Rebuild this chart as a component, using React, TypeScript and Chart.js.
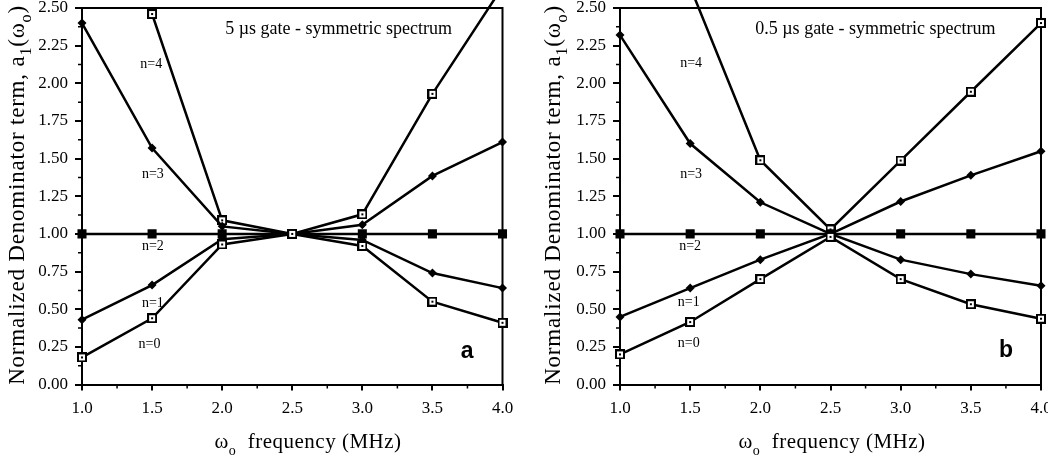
import React, { useEffect, useRef } from 'react';
import { Chart, registerables } from 'chart.js';

Chart.register(...registerables);

// ---------------- data ----------------
const frequencyMHz = [1.0, 1.5, 2.0, 2.5, 3.0, 3.5, 4.0];
const xTickValues = [1.0, 1.5, 2.0, 2.5, 3.0, 3.5, 4.0];
const yTickValues = [0, 0.25, 0.5, 0.75, 1.0, 1.25, 1.5, 1.75, 2.0, 2.25, 2.5];
const seriesNames = ['n=0', 'n=1', 'n=2', 'n=3', 'n=4'];

// (a) 5 µs gate - symmetric spectrum
const gate5_n0 = [0.18, 0.44, 0.93, 1.0, 0.92, 0.55, 0.41];
const gate5_n1 = [0.43, 0.66, 0.965, 1.0, 0.96, 0.74, 0.64];
const gate5_n2 = [1.0, 1.0, 1.0, 1.0, 1.0, 1.0, 1.0];
const gate5_n3 = [2.4, 1.57, 1.05, 1.0, 1.06, 1.385, 1.61];
const gate5_n4 = [null, 2.46, 1.09, 1.0, 1.13, 1.93, 2.64];

// (b) 0.5 µs gate - symmetric spectrum
const gate05_n0 = [0.2, 0.415, 0.7, 0.98, 0.7, 0.533, 0.437];
const gate05_n1 = [0.449, 0.64, 0.829, 1.0, 0.829, 0.733, 0.655];
const gate05_n2 = [1.0, 1.0, 1.0, 1.0, 1.0, 1.0, 1.0];
const gate05_n3 = [2.32, 1.6, 1.21, 1.0, 1.215, 1.389, 1.549];
const gate05_n4 = [null, 2.64, 1.489, 1.03, 1.487, 1.944, 2.4];

const SERIF = '"Liberation Serif", "Times New Roman", serif';
const SANS = '"Liberation Sans", Arial, sans-serif';

type Seg = { t: string; sub?: boolean };

type PanelSpec = {
  left: number;
  width: number;
  area: { left: number; right: number; top: number; bottom: number };
  series: (number | null)[][];
  gateLabel: string;
  gatePos: [number, number];
  letter: string;
  letterPos: [number, number];
  nLabelPos: [number, number][]; // n=0..n=4 in data units
  yTitleX: number;
  yTitleY: number;
  xTitleX: number;
  xTitleY: number;
};

const H = 463;

const panelA: PanelSpec = {
  left: 0,
  width: 527,
  area: { left: 82, right: 502.5, top: 8, bottom: 384.5 },
  series: [gate5_n0, gate5_n1, gate5_n2, gate5_n3, gate5_n4],
  gateLabel: '5 \u00b5s gate - symmetric spectrum',
  gatePos: [2.831, 2.36],
  letter: 'a',
  letterPos: [3.747, 0.217],
  nLabelPos: [
    [1.482, 0.27],
    [1.506, 0.539],
    [1.506, 0.92],
    [1.506, 1.396],
    [1.494, 2.128],
  ],
  yTitleX: 16,
  yTitleY: 195,
  xTitleX: 308,
  xTitleY: 441,
};

const panelB: PanelSpec = {
  left: 527,
  width: 521,
  area: { left: 93, right: 514, top: 8, bottom: 384.5 },
  series: [gate05_n0, gate05_n1, gate05_n2, gate05_n3, gate05_n4],
  gateLabel: '0.5 \u00b5s gate - symmetric spectrum',
  gatePos: [2.82, 2.356],
  letter: 'b',
  letterPos: [3.751, 0.222],
  nLabelPos: [
    [1.49, 0.273],
    [1.49, 0.544],
    [1.5, 0.918],
    [1.507, 1.396],
    [1.507, 2.133],
  ],
  yTitleX: 25,
  yTitleY: 195,
  xTitleX: 305,
  xTitleY: 441,
};

function makeDotSquare(): HTMLCanvasElement {
  const c = document.createElement('canvas');
  c.width = 10;
  c.height = 10;
  const g = c.getContext('2d')!;
  g.fillStyle = '#000';
  g.fillRect(0, 0, 10, 10);
  g.fillStyle = '#fff';
  g.fillRect(2, 2, 6, 6);
  g.fillStyle = '#000';
  g.fillRect(4, 4, 2, 2);
  return c;
}

function drawRich(
  ctx: CanvasRenderingContext2D,
  segs: Seg[],
  cx: number,
  cy: number,
  size: number,
  spacing: number,
  rotate: boolean
) {
  ctx.save();
  ctx.translate(cx, cy);
  if (rotate) ctx.rotate(-Math.PI / 2);
  const mainFont = `${size}px ${SERIF}`;
  const subFont = `${Math.round(size * 0.68)}px ${SERIF}`;
  (ctx as any).letterSpacing = `${spacing}px`;
  ctx.fillStyle = '#000';
  ctx.textAlign = 'left';
  ctx.textBaseline = 'alphabetic';
  const widths = segs.map((s) => {
    ctx.font = s.sub ? subFont : mainFont;
    return ctx.measureText(s.t).width;
  });
  const total = widths.reduce((a, b) => a + b, 0);
  let x = -total / 2;
  segs.forEach((s, i) => {
    ctx.font = s.sub ? subFont : mainFont;
    const y = size * 0.35 + (s.sub ? size * 0.32 : 0);
    ctx.fillText(s.t, x, y);
    x += widths[i];
  });
  ctx.restore();
}

function ChartPanel({ spec }: { spec: PanelSpec }) {
  const ref = useRef<HTMLCanvasElement>(null);

  useEffect(() => {
    const canvas = ref.current!;
    const dotSquare = makeDotSquare();
    const markerStyles: any[] = [
      { pointStyle: dotSquare, pointRadius: 5 },
      { pointStyle: 'rectRot', pointRadius: 4.5 },
      { pointStyle: 'rect', pointRadius: 6.4 },
      { pointStyle: 'rectRot', pointRadius: 4.5 },
      { pointStyle: dotSquare, pointRadius: 5 },
    ];

    const datasets = spec.series.map((vals, i) => ({
      label: seriesNames[i],
      data: frequencyMHz.map((f, j) => ({ x: f, y: vals[j] })),
      borderColor: '#000',
      backgroundColor: '#000',
      borderWidth: 2.5,
      pointBorderWidth: 0,
      pointBackgroundColor: '#000',
      pointBorderColor: '#000',
      ...markerStyles[i],
      tension: 0,
      spanGaps: false,
      clip: { left: 10, right: 10, top: 8, bottom: 10 },
    }));

    const area = spec.area;

    const decor = {
      id: 'decor',
      beforeDatasetsDraw(chart: any) {
        const ctx = chart.ctx as CanvasRenderingContext2D;
        const ca = chart.chartArea;
        const xs = chart.scales.x;
        const ys = chart.scales.y;
        ctx.save();
        ctx.strokeStyle = '#000';
        ctx.lineWidth = 2;
        ctx.beginPath();
        ctx.moveTo(ca.left - 1, ca.top);
        ctx.lineTo(ca.right, ca.top);
        ctx.lineTo(ca.right, ca.bottom + 1);
        ctx.stroke();
        // minor ticks
        ctx.lineWidth = 1.5;
        ctx.beginPath();
        for (let k = 0; k < xTickValues.length - 1; k++) {
          const v = (xTickValues[k] + xTickValues[k + 1]) / 2;
          const px = xs.getPixelForValue(v);
          ctx.moveTo(px, ca.bottom);
          ctx.lineTo(px, ca.bottom + 4);
        }
        for (let k = 0; k < yTickValues.length - 1; k++) {
          const v = (yTickValues[k] + yTickValues[k + 1]) / 2;
          const py = ys.getPixelForValue(v);
          ctx.moveTo(ca.left - 4, py);
          ctx.lineTo(ca.left, py);
        }
        ctx.stroke();
        ctx.restore();
      },
      afterDatasetsDraw(chart: any) {
        const ctx = chart.ctx as CanvasRenderingContext2D;
        const xs = chart.scales.x;
        const ys = chart.scales.y;
        ctx.save();
        ctx.fillStyle = '#000';
        ctx.textAlign = 'center';
        ctx.textBaseline = 'middle';
        ctx.font = `14px ${SERIF}`;
        spec.nLabelPos.forEach((p, i) => {
          ctx.fillText(seriesNames[i], xs.getPixelForValue(p[0]), ys.getPixelForValue(p[1]));
        });
        ctx.font = `18px ${SERIF}`;
        ctx.fillText(spec.gateLabel, xs.getPixelForValue(spec.gatePos[0]), ys.getPixelForValue(spec.gatePos[1]));
        ctx.font = `bold 23px ${SANS}`;
        ctx.fillText(spec.letter, xs.getPixelForValue(spec.letterPos[0]), ys.getPixelForValue(spec.letterPos[1]));
        ctx.restore();
      },
      afterDraw(chart: any) {
        const ctx = chart.ctx as CanvasRenderingContext2D;
        drawRich(
          ctx,
          [
            { t: 'Normalized Denominator term, a' },
            { t: '1', sub: true },
            { t: '(\u03c9' },
            { t: 'o', sub: true },
            { t: ')' },
          ],
          spec.yTitleX,
          spec.yTitleY,
          23,
          0.8,
          true
        );
        drawRich(
          ctx,
          [{ t: '\u03c9' }, { t: 'o', sub: true }, { t: '  frequency (MHz)' }],
          spec.xTitleX,
          spec.xTitleY,
          21,
          0.5,
          false
        );
      },
    };

    const chart = new Chart(canvas, {
      type: 'line',
      data: { datasets },
      options: {
        responsive: false,
        animation: false,
        devicePixelRatio: 1,
        events: [],
        layout: {
          padding: { left: 0, top: area.top, right: spec.width - area.right, bottom: 0 },
        },
        plugins: {
          legend: { display: false },
          tooltip: { enabled: false },
          title: { display: false },
        },
        scales: {
          x: {
            type: 'linear',
            min: 1,
            max: 4,
            afterBuildTicks: (s: any) => {
              s.ticks = xTickValues.map((v) => ({ value: v }));
            },
            afterFit: (s: any) => {
              s.height = H - area.bottom;
              s.paddingLeft = 0;
              s.paddingRight = 0;
            },
            ticks: {
              autoSkip: false,
              maxRotation: 0,
              minRotation: 0,
              padding: 8,
              color: '#000',
              font: { family: SERIF, size: 17 },
              callback: (v: any) => Number(v).toFixed(1),
            },
            grid: {
              drawOnChartArea: false,
              drawTicks: true,
              tickLength: 6,
              color: '#000',
              lineWidth: 2,
            },
            border: { display: true, color: '#000', width: 2 },
          },
          y: {
            type: 'linear',
            min: 0,
            max: 2.5,
            afterBuildTicks: (s: any) => {
              s.ticks = yTickValues.map((v) => ({ value: v }));
            },
            afterFit: (s: any) => {
              s.width = area.left;
              s.paddingTop = 0;
              s.paddingBottom = 0;
            },
            ticks: {
              autoSkip: false,
              padding: 7,
              color: '#000',
              font: { family: SERIF, size: 17 },
              callback: (v: any) => Number(v).toFixed(2),
            },
            grid: {
              drawOnChartArea: false,
              drawTicks: true,
              tickLength: 7,
              color: '#000',
              lineWidth: 2,
            },
            border: { display: true, color: '#000', width: 2 },
          },
        },
      },
      plugins: [decor],
    } as any);

    return () => chart.destroy();
  }, [spec]);

  return (
    <canvas
      ref={ref}
      width={spec.width}
      height={H}
      style={{ position: 'absolute', left: spec.left, top: 0, width: spec.width, height: H }}
    />
  );
}

export default function App() {
  return (
    <div
      style={{
        position: 'absolute',
        left: 0,
        top: 0,
        width: 1057,
        height: H,
        background: '#fff',
        overflow: 'hidden',
      }}
    >
      <ChartPanel spec={panelA} />
      <ChartPanel spec={panelB} />
    </div>
  );
}
